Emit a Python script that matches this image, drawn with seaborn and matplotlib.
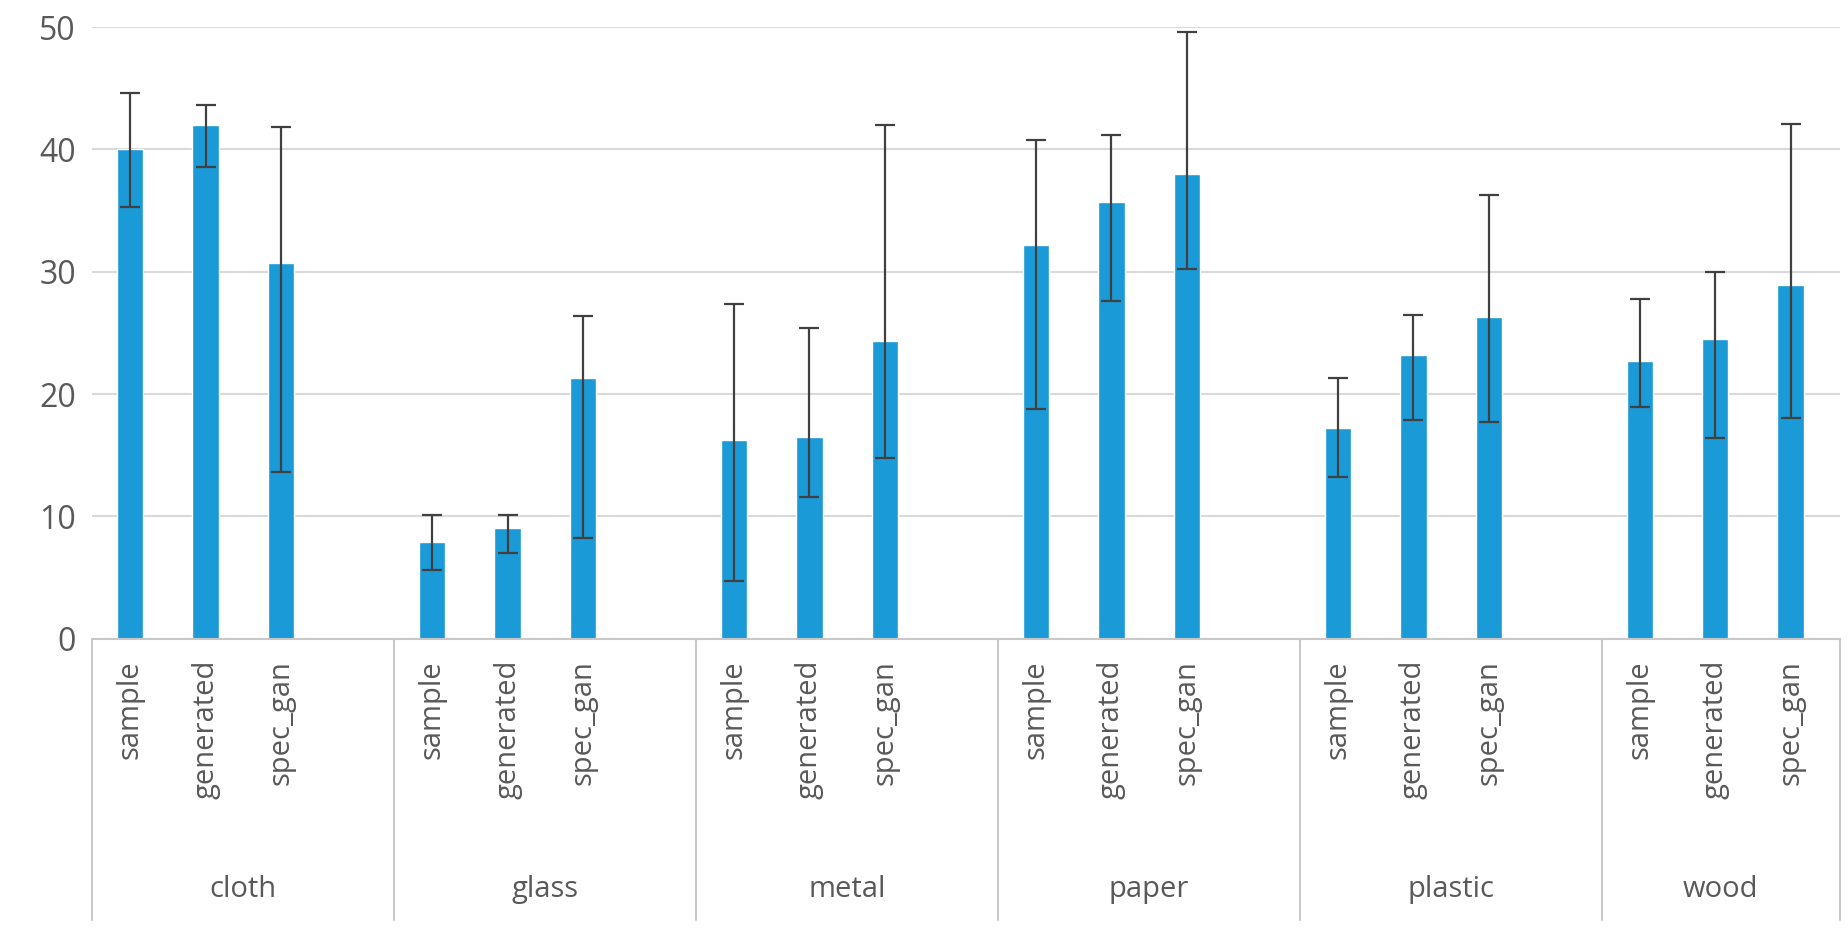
import numpy as np
import pandas as pd
import matplotlib
matplotlib.use("Agg")
import matplotlib.pyplot as plt
import seaborn as sns

materials = ["cloth", "glass", "metal", "paper", "plastic", "wood"]
methods = ["sample", "generated", "spec_gan"]
means = [40.0, 42.0, 30.7,
         7.9, 9.0, 21.3,
         16.2, 16.5, 24.3,
         32.2, 35.7, 38.0,
         17.2, 23.2, 26.3,
         22.7, 24.5, 28.9]
err_low = [35.3, 38.6, 13.6,
           5.6, 7.0, 8.2,
           4.7, 11.6, 14.8,
           18.8, 27.6, 30.2,
           13.2, 17.9, 17.7,
           18.9, 16.4, 18.0]
err_high = [44.6, 43.6, 41.8,
            10.1, 10.1, 26.4,
            27.4, 25.4, 42.0,
            40.8, 41.2, 49.6,
            21.3, 26.5, 36.3,
            27.8, 30.0, 42.1]

pos = [g * 4 + m for g in range(len(materials)) for m in range(len(methods))]
df = pd.DataFrame({"pos": pos, "mean": means})

sns.set_style("white")
plt.rcParams["font.family"] = ["Open Sans", "DejaVu Sans"]
fig = plt.figure(figsize=(18.49, 9.39), dpi=100)
ax = fig.add_axes([0.05, 0.32, 0.945, 0.651])

sns.barplot(data=df, x="pos", y="mean", native_scale=True, color="#1a9ad6",
            width=0.35, saturation=1, ax=ax, zorder=2)
m = np.array(means)
ax.errorbar(pos, m, yerr=[m - np.array(err_low), np.array(err_high) - m],
            fmt="none", ecolor="#404040", elinewidth=1.6, capsize=7,
            capthick=1.6, zorder=3)

xmax = 22.65
ax.set_xlim(-0.5, xmax)
ax.set_ylim(0, 50)
ax.set_yticks(range(0, 51, 10))
ax.yaxis.grid(True, color="#d9d9d9", linewidth=1.5, zorder=0)
ax.set_axisbelow(True)
for s in ["top", "right", "left"]:
    ax.spines[s].set_visible(False)
ax.spines["bottom"].set_color("#c8c8c8")
ax.spines["bottom"].set_linewidth(1.5)
ax.tick_params(axis="y", labelsize=23, labelcolor="#595959", length=0, pad=12)
ax.set_xticks([])
ax.set_xlabel("")
ax.set_ylabel("")

for p, lab in zip(pos, methods * len(materials)):
    ax.text(p, -0.035, lab, rotation=90, ha="center", va="top", fontsize=21,
            color="#595959", transform=ax.get_xaxis_transform())
for g, mat in enumerate(materials):
    left = g * 4 - 0.5
    right = min(left + 4, xmax)
    ax.text((left + right) / 2, -0.41, mat, ha="center", va="center",
            fontsize=21, color="#595959", transform=ax.get_xaxis_transform())
for xb in [-0.5, 3.5, 7.5, 11.5, 15.5, 19.5, xmax]:
    ax.plot([xb, xb], [0, -0.46], color="#c8c8c8", linewidth=1.5,
            clip_on=False, transform=ax.get_xaxis_transform())

fig.savefig("out.png", dpi=100)
